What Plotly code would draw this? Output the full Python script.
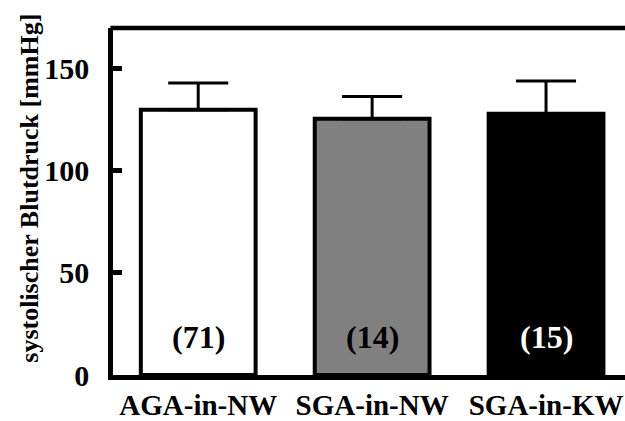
import plotly.graph_objects as go

categories = ["AGA-in-NW", "SGA-in-NW", "SGA-in-KW"]
means = [130, 125.5, 128]
sd_upper = [13, 11, 16]
n_labels = ["(71)", "(14)", "(15)"]
fill_colors = ["#ffffff", "#808080", "#000000"]
label_colors = ["#000000", "#000000", "#ffffff"]
y_ticks = [0, 50, 100, 150]
y_title = "systolischer Blutdruck [mmHg]"

FONT = "Liberation Serif, Times New Roman, serif"

fig = go.Figure()
fig.add_trace(go.Bar(
    x=[0, 1, 2], y=means,
    width=0.66,
    marker=dict(color=fill_colors, line=dict(color="black", width=4)),
    error_y=dict(type="data", symmetric=False, array=sd_upper,
                 arrayminus=[0] * len(means), color="black",
                 thickness=3, width=30),
    showlegend=False,
))

for i, (t, c) in enumerate(zip(n_labels, label_colors)):
    fig.add_annotation(x=i, y=18.5, text="<b>%s</b>" % t, showarrow=False,
                       font=dict(family=FONT, size=32, color=c))

# y-axis title as rotated annotation
fig.add_annotation(xref="paper", yref="paper", x=-0.162, y=0.537,
                   text="<b>%s</b>" % y_title, textangle=-90, showarrow=False,
                   xanchor="center", yanchor="middle",
                   font=dict(family=FONT, size=26, color="black"))

# top frame line
fig.add_shape(type="line", xref="paper", yref="paper", x0=-0.005, x1=1.02, y0=1, y1=1,
              line=dict(color="black", width=4.5))

fig.update_layout(
    width=625, height=421,
    margin=dict(l=113, r=0, t=28, b=43),
    paper_bgcolor="white", plot_bgcolor="white",
    font=dict(family=FONT, size=28, color="black"),
    xaxis=dict(
        range=[-0.49, 2.454], tickmode="array", tickvals=[0, 1, 2],
        ticktext=["<b>%s</b>" % c for c in categories],
        showline=True, linecolor="black", linewidth=4.5,
        ticks="", showgrid=False, zeroline=False,
        tickfont=dict(family=FONT, size=29),
    ),
    yaxis=dict(
        range=[0, 170], tickmode="array", tickvals=y_ticks,
        ticktext=["<b>%d</b>" % v for v in y_ticks],
        showline=True, linecolor="black", linewidth=4.5,
        ticks="inside", ticklen=9, tickwidth=4.5, tickcolor="black",
        ticklabelstandoff=13,
        showgrid=False, zeroline=False,
        tickfont=dict(family=FONT, size=30),
    ),
)

fig.write_html("out.html")
